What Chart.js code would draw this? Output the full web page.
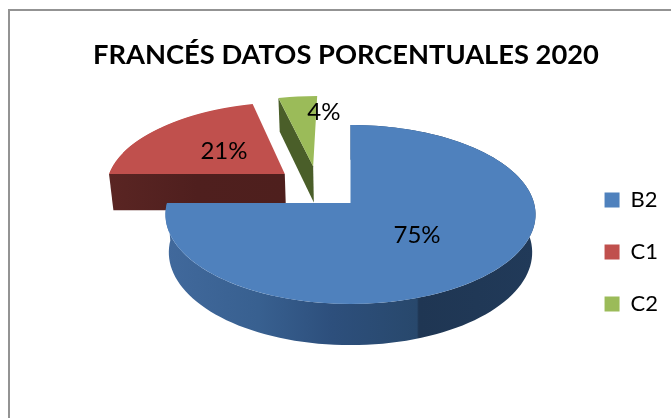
<!DOCTYPE html>
<html><head><meta charset="utf-8">
<style>
html,body{margin:0;padding:0;background:#fff;overflow:hidden}
#wrap{position:relative;width:671px;height:418px;overflow:hidden}
#frame{position:absolute;left:8px;top:9px;width:700px;height:440px;border:2px solid #939393;box-sizing:border-box}
canvas{position:absolute;left:0;top:0}
</style>
<script src="https://cdn.jsdelivr.net/npm/chart.js@4"></script>
</head><body>
<div id="wrap"><div id="frame"></div><canvas id="c" width="671" height="418"></canvas></div>
<script>
const categories = ['B2','C1','C2'];
const values = [75,21,4];
const percentLabels = ['75%','21%','4%'];
const titleText = 'FRANCÉS DATOS PORCENTUALES 2020';
const faceColors = ['#4f81bd','#c0504d','#9bbb59'];

// Camera for the tilted pie: ground plane (radius = 1) to screen
const cam = {x:350.5, y:203, rx:183.5, ry:88, c:0.128, wall:37.5, shrink:0.982};
// Explosion of each slice on the ground plane, and label placement in the slice
const explode = [[0,0],[-0.374,-0.345],[-0.215,-0.44]];
const labelR = [0.49,0.47,0.75];
const labelTurn = [0,0,0.19];

function project(U,V){
  const d = 1 - cam.c*V;
  return {x:cam.x + cam.rx*U/d, y:cam.y + cam.ry*V/d, d};
}
function lower(p){
  return {x:cam.x + (p.x-cam.x)*cam.shrink, y:cam.y + (p.y-cam.y)*cam.shrink + cam.wall/p.d};
}
function wallPath(ctx, pts){
  ctx.beginPath();
  pts.forEach((p,i)=> i?ctx.lineTo(p.x,p.y):ctx.moveTo(p.x,p.y));
  const low = pts.map(lower).reverse();
  low.forEach(p=>ctx.lineTo(p.x,p.y));
  ctx.closePath();
}
function rim(arc, ex){
  const pts=[], n=120;
  for(let i=0;i<=n;i++){
    const a = arc.startAngle + (arc.endAngle-arc.startAngle)*i/n;
    pts.push(project(Math.cos(a)+ex[0], Math.sin(a)+ex[1]));
  }
  return pts;
}
function drawFace(ctx, chart, arc, ex){
  const R = arc.outerRadius, cx = arc.x, cy = arc.y;
  const pts = rim(arc, ex).concat([project(ex[0],ex[1])]);
  const y0 = Math.floor(Math.min(...pts.map(p=>p.y)))-1;
  const y1 = Math.ceil(Math.max(...pts.map(p=>p.y)))+1;
  for(let Y=y0; Y<y1; Y++){
    const t = (Y+0.5-cam.y)/cam.ry;
    const q = 1 + cam.c*t;
    const V = t/q;
    const a = cam.rx/(R*(1-cam.c*V));
    const d = cam.ry*q*q/R;
    const sy = cy + R*(V-ex[1]);
    ctx.save();
    ctx.setTransform(1,0,0,1,0,0);
    ctx.beginPath(); ctx.rect(0,Y,671,1); ctx.clip();
    ctx.setTransform(a,0,0,d, cam.x + a*(R*ex[0]-cx), Y+0.5-d*sy);
    arc.draw(ctx);
    ctx.restore();
  }
}
const pie3d = {
  id:'pie3d',
  beforeDatasetDraw(chart){
    const ctx = chart.ctx, arcs = chart.getDatasetMeta(0).data;
    ctx.save();
    // C1
    {
      const e = explode[1], a = arcs[1];
      const apex = project(e[0],e[1]);
      const corner = project(Math.cos(a.startAngle)+e[0], Math.sin(a.startAngle)+e[1]);
      wallPath(ctx,[corner,apex]);
      const g = ctx.createLinearGradient(corner.x,0,apex.x,0);
      g.addColorStop(0,'#5a2523'); g.addColorStop(0.5,'#4f1f1e'); g.addColorStop(1,'#4e1f1d');
      ctx.fillStyle = g; ctx.fill();
      drawFace(ctx,chart,a,e);
    }
    // C2
    {
      const e = explode[2], a = arcs[2];
      const apex = project(e[0],e[1]);
      const tip = project(Math.cos(a.startAngle)+e[0], Math.sin(a.startAngle)+e[1]);
      wallPath(ctx,[tip,apex]);
      ctx.fillStyle = '#4a5e29'; ctx.fill();
      drawFace(ctx,chart,a,e);
    }
    // B2
    {
      const e = explode[0], a = arcs[0];
      wallPath(ctx, rim(a,e));
      const g = ctx.createLinearGradient(166,0,535,0);
      g.addColorStop(0,'#41699c'); g.addColorStop(0.25,'#386090'); g.addColorStop(0.45,'#2d4f7c');
      g.addColorStop(0.68,'#28486c'); g.addColorStop(0.685,'#1f3653'); g.addColorStop(1,'#213a59');
      ctx.fillStyle = g; ctx.fill();
      drawFace(ctx,chart,a,e);
    }
    // Labels
    ctx.setTransform(1,0,0,1,0,0);
    ctx.fillStyle = '#000';
    ctx.font = '24px Lato';
    ctx.textAlign = 'center'; ctx.textBaseline = 'middle';
    arcs.forEach((a,i)=>{
      const m = (a.startAngle+a.endAngle)/2 + labelTurn[i];
      const p = project(labelR[i]*Math.cos(m)+explode[i][0], labelR[i]*Math.sin(m)+explode[i][1]);
      ctx.fillText(percentLabels[i], p.x, p.y);
    });
    ctx.restore();
    return false;
  }
};
new Chart(document.getElementById('c'),{
  type:'pie',
  plugins:[pie3d],
  data:{labels:categories,datasets:[{data:values,backgroundColor:faceColors,borderWidth:0}]},
  options:{
    responsive:false,animation:false,
    layout:{padding:{left:24,right:3,top:39,bottom:4}},
    plugins:{
      tooltip:{enabled:false},
      title:{display:true,text:titleText,color:'#000',font:{family:'Lato',size:27.3,weight:'bold'},padding:{top:0,bottom:18}},
      legend:{position:'right',fullSize:false,labels:{boxWidth:15,boxHeight:15,padding:30,color:'#000',font:{family:'Lato',size:22}}}
    }
  }
});
</script>
</body></html>
